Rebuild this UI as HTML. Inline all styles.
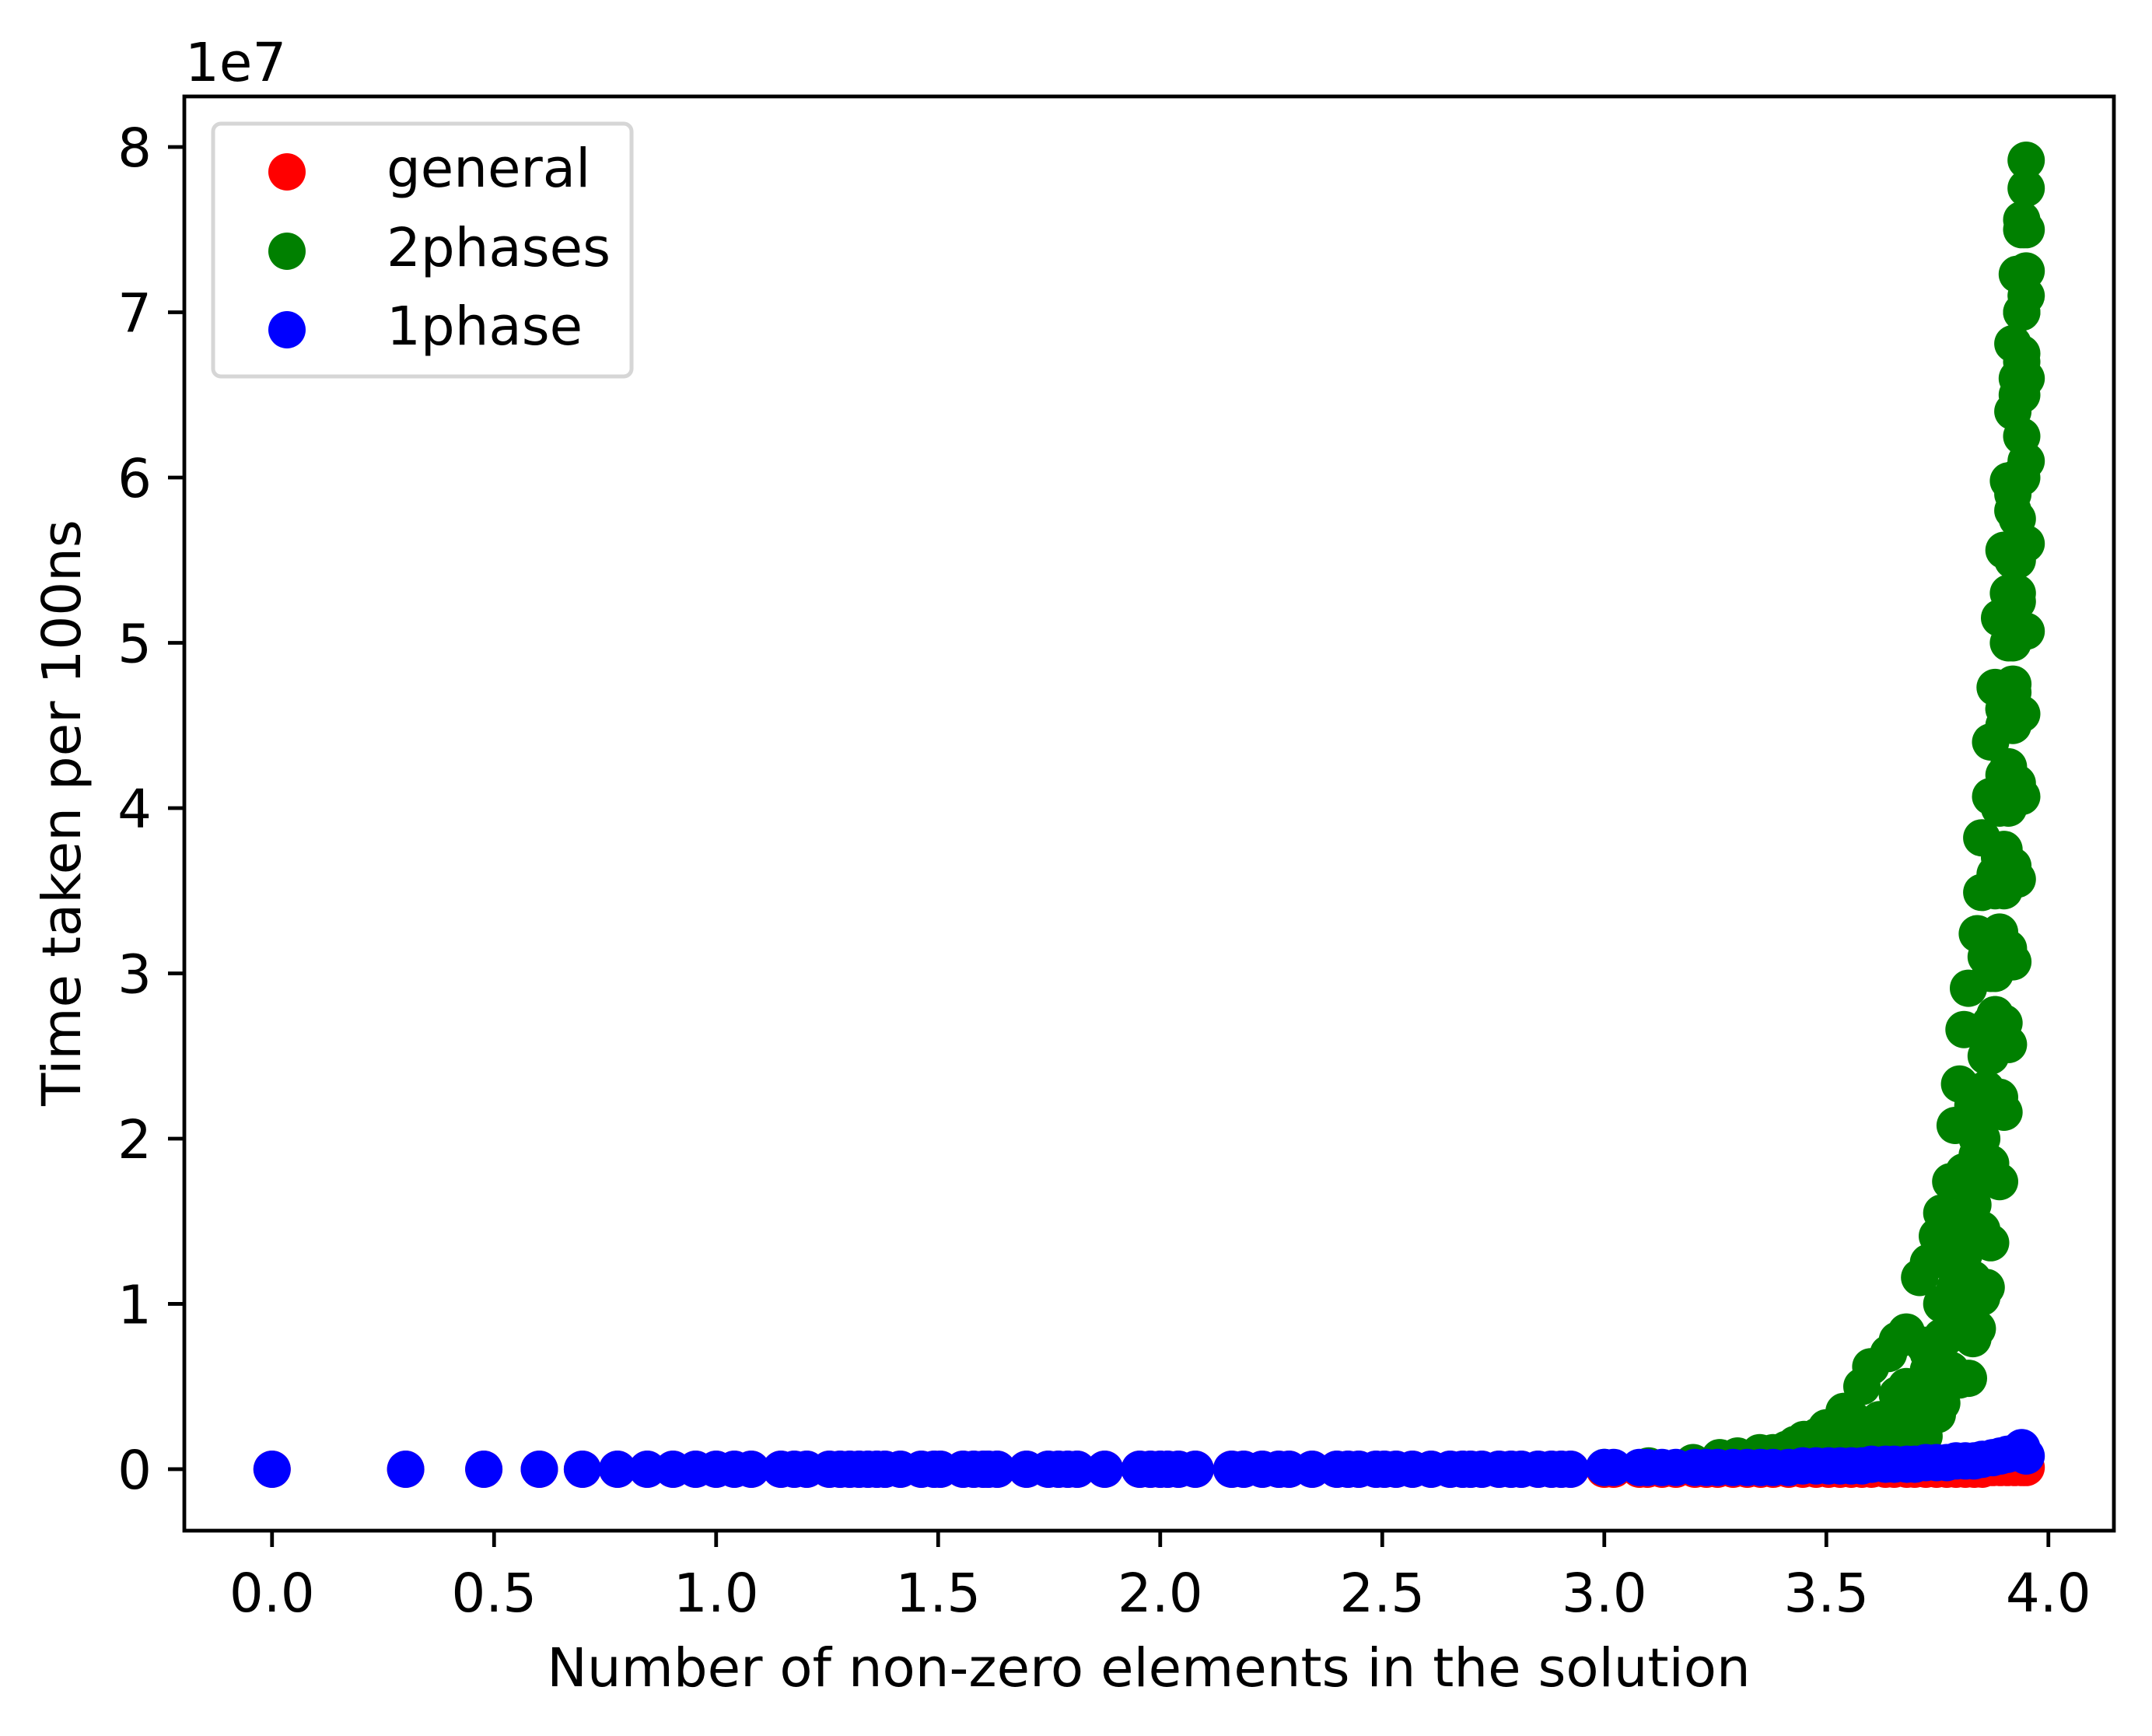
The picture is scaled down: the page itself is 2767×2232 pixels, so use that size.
<!DOCTYPE html>
<html><head><meta charset="utf-8"><style>
html,body{margin:0;padding:0;background:#fff}
svg{display:block}
text{font-family:"DejaVu Sans","Liberation Sans",sans-serif;fill:#000}
</style></head><body>
<svg id="chart" width="2767" height="2232" viewBox="0 0 2767 2232" xmlns="http://www.w3.org/2000/svg">
<rect x="0" y="0" width="2767" height="2232" fill="#fff"/>
<g id="marks"></g>
<g id="axes"></g>
<text x="238" y="104" font-size="69">1e7</text>
<text x="1477" y="2168" font-size="69" text-anchor="middle">Number of non-zero elements in the solution</text>
<text x="0" y="0" font-size="69" text-anchor="middle" transform="translate(103,1045) rotate(-90)">Time taken per 100ns</text>
<g>
<rect x="274" y="159" width="538" height="325" rx="10" fill="#fff" fill-opacity="0.8" stroke="#d6d6d6" stroke-width="5"/>
<circle cx="369" cy="221" r="24" fill="#ff0000"/>
<text x="497" y="240" font-size="69">general</text>
<circle cx="369" cy="323" r="24" fill="#008000"/>
<text x="497" y="342" font-size="69">2phases</text>
<circle cx="369" cy="424" r="24" fill="#0000ff"/>
<text x="497" y="443" font-size="69">1phase</text>
</g>
</svg>
<script>
const xTicks = [0.0, 0.5, 1.0, 1.5, 2.0, 2.5, 3.0, 3.5, 4.0];
const xTickLabels = ["0.0","0.5","1.0","1.5","2.0","2.5","3.0","3.5","4.0"];
const yTicks = [0,1,2,3,4,5,6,7,8];
const yTickLabels = ["0","1","2","3","4","5","6","7","8"];
// x values (log10 n) shared by the general / 1phase rows
const rowX = [0,0.301,0.477,0.602,0.699,0.778,0.845,0.903,0.954,1.0,1.041,1.079,1.146,1.176,1.204,1.255,1.279,1.301,1.322,1.342,1.362,1.38,1.415,1.462,1.491,1.505,1.556,1.58,1.602,1.613,1.633,1.699,1.748,1.771,1.792,1.813,1.875,1.954,1.978,2.0,2.017,2.041,2.079,2.161,2.188,2.23,2.267,2.29,2.342,2.398,2.423,2.447,2.486,2.505,2.531,2.568,2.61,2.653,2.681,2.699,2.724,2.763,2.79,2.813,2.851,2.881,2.903,2.924,3.0,3.021,3.079,3.097,3.13,3.161,3.204,3.23,3.255,3.29,3.322,3.352,3.38,3.415,3.447,3.477,3.505,3.531,3.556,3.58,3.602,3.633,3.653,3.681,3.699,3.724,3.748,3.771,3.792,3.813,3.833,3.851,3.875,3.892,3.908,3.924,3.94,3.95];
const blueY = [0,0,0,0,0,0,0,0,0,0,0,0,0,0,0,0,0,0,0,0,0,0,0,0,0,0,0,0,0,0,0,0,0,0,0,0,0,0,0,0,0,0,0,0,0,0,0,0,0,0,0,0,0,0,0,0,0,0,0,0,0,0,0,0,0,0,0,0,0.01,0.01,0.01,0.01,0.01,0.01,0.01,0.01,0.01,0.01,0.01,0.01,0.01,0.01,0.02,0.02,0.02,0.02,0.02,0.02,0.03,0.03,0.03,0.03,0.03,0.04,0.04,0.04,0.05,0.05,0.05,0.06,0.07,0.08,0.09,0.1,0.13,0.08];
const redY = [0,0,0,0,0,0,0,0,0,0,0,0,0,0,0,0,0,0,0,0,0,0,0,0,0,0,0,0,0,0,0,0,0,0,0,0,0,0,0,0,0,0,0,0,0,0,0,0,0,0,0,0,0,0,0,0,0,0,0,0,0,0,0,0,0,0,0,0,0,0,0,0,0,0,0,0,0,0,0,0,0,0,0,0,0,0,0,0,0,0,0,0,0,0,0,0,0,0,0,0,0.01,0.01,0.01,0.01,0.01,0.01];
// 2phases (x, y in units of 1e7)
const greenX = [3.0,3.1,3.2,3.26,3.3,3.35,3.41,3.45,3.5,3.54,3.58,3.6,3.64,3.66,3.68,3.71,3.73,3.75,3.76,3.78,3.79,3.8,3.81,3.82,3.84,3.85,3.85,3.87,3.87,3.88,3.89,3.9,3.91,3.92,3.92,3.93,3.94,3.95,
 3.62,3.7,3.75,3.8,3.83,3.85,3.87,3.89,3.9,3.91,3.92,3.93,3.94,3.94,3.95,3.95,3.95,3.95,3.95,
 3.78,3.82,3.84,3.86,3.87,3.88,3.89,3.9,3.91,3.92,3.93,3.93,3.94,3.94,3.66,3.72,
 3.3,3.38,3.43,3.48,3.52,3.56,3.62,3.68,3.74,3.77,3.8,3.82,3.84,3.85,3.86,3.87,3.88,3.88,3.89,3.9,3.9,3.91,3.91,3.92,3.92,3.92,3.93,3.93,3.93,3.93,3.94,3.94,3.94,3.94,3.95,3.95,3.95,
 3.55,3.6,3.65,3.7,3.73,3.76,3.79,3.81,3.83,3.84,3.86,3.87,3.88,3.89,3.9,3.9,3.91,3.92,
 3.6,3.64,3.68,3.72,3.76,3.7,3.74,3.78,3.82,3.73,3.77,3.81,3.84,3.76,3.8,3.83,3.86,3.79,3.82,3.85,3.81,3.84,3.87,3.83,3.86,3.89,3.85,3.88,3.9,3.86,3.89,3.91,3.88,3.9,3.92,3.89,3.91,3.93,3.9,3.92,3.91,3.93,3.92,3.94,3.93,3.94,3.5,3.55,3.62,3.67,3.72];
const greenY = [0.01,0.02,0.04,0.07,0.08,0.1,0.12,0.18,0.25,0.35,0.5,0.62,0.7,0.78,0.83,1.16,1.25,1.41,1.55,1.74,2.08,2.33,2.66,2.91,3.24,3.49,3.82,4.07,4.4,4.73,5.15,5.56,5.98,6.4,6.81,7.23,7.56,7.92,
 0.15,0.25,0.33,0.54,0.79,1.04,1.37,1.74,2.16,2.57,3.07,3.57,4.07,4.57,5.07,5.6,6.1,6.6,7.1,
 1.0,1.5,2.0,2.5,3.0,3.5,4.0,4.5,5.0,5.5,6.0,6.5,7.0,7.5,0.45,0.75,
 0.05,0.1,0.15,0.2,0.25,0.3,0.3,0.5,0.75,1.0,1.25,1.5,1.75,2.0,2.25,2.5,2.75,3.0,3.25,3.5,3.75,4.0,4.25,4.5,4.75,5.0,5.25,5.5,5.75,6.0,6.25,6.5,6.75,7.0,7.25,7.5,7.75,
 0.12,0.2,0.3,0.45,0.6,0.8,1.1,1.3,1.6,1.9,2.2,2.7,3.2,3.7,4.2,4.6,5.3,5.8,
 0.2,0.25,0.3,0.35,0.4,0.45,0.55,0.6,0.55,0.7,0.8,0.9,0.85,1.0,1.1,1.15,1.1,1.4,1.5,1.45,1.8,1.9,1.85,2.2,2.3,2.25,2.65,2.75,2.7,3.1,3.2,3.15,3.6,3.7,3.65,4.1,4.2,4.15,4.6,4.7,5.2,5.3,5.9,6.0,6.6,6.7,0.1,0.12,0.12,0.15,0.2];

const L=237,R=2718,T=124,B=1968;
const XMIN=-0.1975,XMAX=4.1475,YMIN=-0.372,YMAX=8.306;
function sx(v){return L+(v-XMIN)/(XMAX-XMIN)*(R-L);}
function sy(v){return B-(v-YMIN)/(YMAX-YMIN)*(B-T);}
const NS="http://www.w3.org/2000/svg";
const marks=document.getElementById('marks');
const axes=document.getElementById('axes');
function dot(x,y,color,name){
  const c=document.createElementNS(NS,'circle');
  c.setAttribute('cx',sx(x).toFixed(1));
  c.setAttribute('cy',sy(y).toFixed(1));
  c.setAttribute('r','24');
  c.setAttribute('fill',color);
  
  
  marks.appendChild(c);
}
for(let i=0;i<rowX.length;i++){ dot(rowX[i],redY[i],'#ff0000','point-general'); }
for(let i=0;i<greenX.length;i++){ dot(greenX[i],greenY[i],'#008000','point-2phases'); }
for(let i=0;i<rowX.length;i++){ dot(rowX[i],blueY[i],'#0000ff','point-1phase'); }

const frame=document.createElementNS(NS,'rect');
frame.setAttribute('x',L);frame.setAttribute('y',T);
frame.setAttribute('width',R-L);frame.setAttribute('height',B-T);
frame.setAttribute('fill','none');frame.setAttribute('stroke','#000');frame.setAttribute('stroke-width','4.8');


axes.appendChild(frame);

xTicks.forEach((v,i)=>{
  const x=sx(v);
  const l=document.createElementNS(NS,'line');
  l.setAttribute('x1',x);l.setAttribute('x2',x);l.setAttribute('y1',B);l.setAttribute('y2',B+21);
  l.setAttribute('stroke','#000');l.setAttribute('stroke-width','4.8');
  
  
  axes.appendChild(l);
  const t=document.createElementNS(NS,'text');
  t.setAttribute('x',x);t.setAttribute('y',2072);t.setAttribute('font-size','69');t.setAttribute('text-anchor','middle');
  t.textContent=xTickLabels[i];
  
  
  axes.appendChild(t);
});
yTicks.forEach((v,i)=>{
  const y=sy(v);
  const l=document.createElementNS(NS,'line');
  l.setAttribute('x1',L-21);l.setAttribute('x2',L);l.setAttribute('y1',y);l.setAttribute('y2',y);
  l.setAttribute('stroke','#000');l.setAttribute('stroke-width','4.8');
  
  
  axes.appendChild(l);
  const t=document.createElementNS(NS,'text');
  t.setAttribute('x',L-42);t.setAttribute('y',y+25);t.setAttribute('font-size','69');t.setAttribute('text-anchor','end');
  t.textContent=yTickLabels[i];
  
  
  axes.appendChild(t);
});
</script>
</body></html>
